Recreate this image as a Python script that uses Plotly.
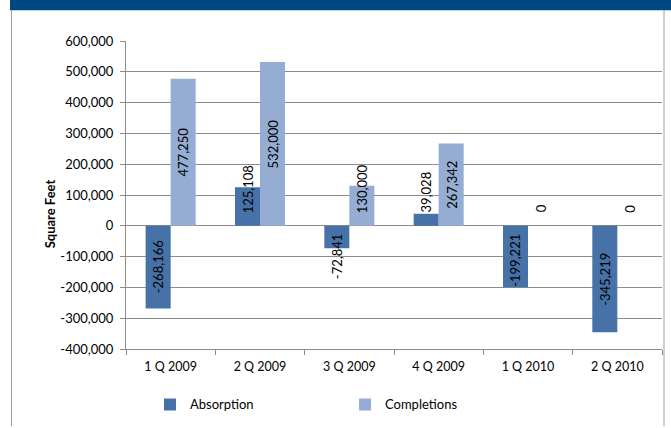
import plotly.graph_objects as go

categories = ["1 Q 2009", "2 Q 2009", "3 Q 2009", "4 Q 2009", "1 Q 2010", "2 Q 2010"]
absorption = [-268166, 125108, -72841, 39028, -199221, -345219]
completions = [477250, 532000, 130000, 267342, 0, 0]
y_tickvals = [600000, 500000, 400000, 300000, 200000, 100000, 0,
              -100000, -200000, -300000, -400000]
y_ticktext = ["600,000", "500,000", "400,000", "300,000", "200,000", "100,000", "0",
              "-100,000", "-200,000", "-300,000", "-400,000"]

W, H = 671, 428
L, R, T, B = 126, 9, 41, 76
plot_w = W - L - R
plot_h = H - T - B
ymin, ymax = -400000, 600000
bargap = 0.44
FONT = "Lato"
GRID = "#8C8C8C"
colors = ["#4672A8", "#95ACD3"]


def px_x(px):
    return (px - L) / plot_w


def px_y(py):
    return (H - B - py) / plot_h


fig = go.Figure()
fig.add_bar(name="Absorption", x=categories, y=absorption, marker_color=colors[0],
            marker_line_width=0)
fig.add_bar(name="Completions", x=categories, y=completions, marker_color=colors[1],
            marker_line_width=0)

px_per_unit = plot_h / (ymax - ymin)
char_px = 6.9
offset = (1 - bargap) / 4
annotations = []
for si, vals in enumerate([absorption, completions]):
    dx = -offset if si == 0 else offset
    for i, v in enumerate(vals):
        text = f"{v:,}"
        text_px = len(text) * char_px
        bar_px = abs(v) * px_per_unit
        if bar_px >= text_px + 14:
            y, yanchor, yshift = v / 2, "middle", 0
        elif v >= 0:
            y, yanchor, yshift = 0, "bottom", 11
        else:
            y, yanchor, yshift = 0, "top", -6
        annotations.append(dict(
            x=i + dx, y=y, xref="x", yref="y", text=text, textangle=-90,
            showarrow=False, xanchor="center", yanchor=yanchor, yshift=yshift,
            font=dict(family=FONT, size=13, color="#000000")))

annotations.append(dict(
    x=px_x(50), y=px_y(216), xref="paper", yref="paper", text="<b>Square Feet</b>",
    textangle=-90, showarrow=False, xanchor="center", yanchor="middle",
    font=dict(family=FONT, size=13, color="#000000")))

shapes = [
    # header band
    dict(type="rect", xref="paper", yref="paper", x0=px_x(10), x1=px_x(W + 2),
         y0=px_y(10), y1=px_y(-2), fillcolor="#014880", line_width=0, layer="above"),
    # frame
    dict(type="line", xref="paper", yref="paper", x0=px_x(11.5), x1=px_x(11.5),
         y0=px_y(10), y1=px_y(H + 2), line=dict(color="#A0A0A0", width=1)),
    dict(type="line", xref="paper", yref="paper", x0=px_x(664), x1=px_x(664),
         y0=px_y(10), y1=px_y(H + 2), line=dict(color="#A0A0A0", width=1)),
]

fig.update_layout(
    width=W, height=H,
    margin=dict(l=L, r=R, t=T, b=B),
    paper_bgcolor="white", plot_bgcolor="white",
    barmode="group", bargap=bargap, bargroupgap=0,
    font=dict(family=FONT, size=13, color="#000000"),
    showlegend=True,
    legend=dict(orientation="h", x=px_x(150), y=px_y(408), xanchor="left",
                yanchor="middle", entrywidth=150, entrywidthmode="pixels",
                font=dict(family=FONT, size=13, color="#000000"),
                bgcolor="rgba(0,0,0,0)"),
    annotations=annotations,
    shapes=shapes,
    xaxis=dict(type="category", showline=True, linecolor=GRID, linewidth=1,
               ticks="outside", tickson="boundaries", ticklen=5, tickcolor=GRID,
               showgrid=False, ticklabelstandoff=6,
               tickfont=dict(family=FONT, size=12.5, color="#000000")),
    yaxis=dict(range=[ymin, ymax], tickvals=y_tickvals, ticktext=y_ticktext,
               showline=True, linecolor=GRID, linewidth=1, ticks="outside",
               ticklen=5, tickcolor=GRID, showgrid=True, gridcolor=GRID,
               gridwidth=1, zeroline=False, ticklabelstandoff=4,
               tickfont=dict(family=FONT, size=13, color="#000000")),
)

fig.write_html("out.html")
